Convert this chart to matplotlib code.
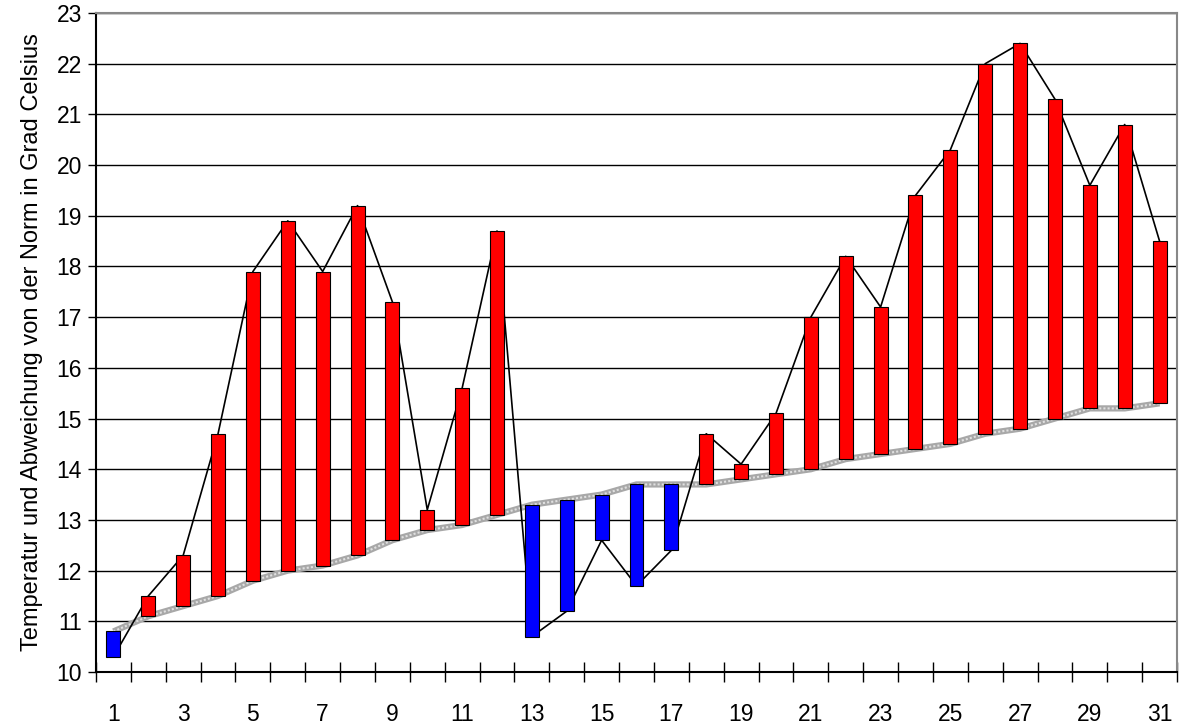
import matplotlib
matplotlib.use("Agg")
import matplotlib.pyplot as plt
import numpy as np

# Tage im Monat
tage = list(range(1, 32))

# gemessene Temperatur (Tagesmittel)
temperatur = [10.3, 11.5, 12.3, 14.7, 17.9, 18.9, 17.9, 19.2, 17.3, 13.2,
              15.6, 18.7, 10.7, 11.2, 12.6, 11.7, 12.4, 14.7, 14.1, 15.1,
              17.0, 18.2, 17.2, 19.4, 20.3, 22.0, 22.4, 21.3, 19.6, 20.8,
              18.5]

# langjährige Norm
norm = [10.8, 11.1, 11.3, 11.5, 11.8, 12.0, 12.1, 12.3, 12.6, 12.8,
        12.9, 13.1, 13.3, 13.4, 13.5, 13.7, 13.7, 13.7, 13.8, 13.9,
        14.0, 14.2, 14.3, 14.4, 14.5, 14.7, 14.8, 15.0, 15.2, 15.2,
        15.3]

y_ticks = list(range(10, 24))
x_labels = [str(t) if t % 2 == 1 else "" for t in tage]

plt.rcParams['font.family'] = ['Liberation Sans', 'DejaVu Sans']

fig = plt.figure(figsize=(11.8, 7.26), dpi=100)
ax = fig.add_axes([96 / 1180, 54 / 726, 1081 / 1180, 659 / 726])

temp = np.array(temperatur)
nrm = np.array(norm)
farben = ['#ff0000' if t >= n else '#0000ff' for t, n in zip(temp, nrm)]

# Gitter
for y in y_ticks:
    ax.axhline(y, color='black', lw=1.0, zorder=1)

# Norm als graues Band
ax.plot(tage, nrm, color='#a8a8a8', lw=4.5, solid_capstyle='butt', zorder=2)
ax.plot(tage, nrm, color='#e0e0e0', lw=1.5, ls=(0, (1, 1)), zorder=2.1)

# Temperaturlinie
ax.plot(tage, temp, color='black', lw=1.2, zorder=3)

# Abweichungsbalken
ax.bar(tage, temp - nrm, bottom=nrm, width=0.4, color=farben,
       edgecolor='black', linewidth=0.8, zorder=4)

ax.set_xlim(0.5, 31.5)
ax.set_ylim(10, 23)
ax.set_yticks(y_ticks)
ax.set_xticks(tage)
ax.set_xticklabels(x_labels)
ax.tick_params(axis='x', length=0, labelsize=16.5, pad=22)
ax.set_xticks(np.arange(0.5, 32, 1), minor=True)
ax.tick_params(axis='x', which='minor', direction='inout', length=14,
               width=1, color='black')
ax.tick_params(axis='y', direction='out', length=6, width=1,
               labelsize=16.5, pad=4)

ax.spines['left'].set_color('black')
ax.spines['bottom'].set_color('black')
ax.spines['top'].set_color('#888888')
ax.spines['right'].set_color('#888888')
for s in ax.spines.values():
    s.set_linewidth(1.5)

ax.set_ylabel('Temperatur und Abweichung von der Norm in Grad Celsius',
              fontsize=17, labelpad=10)

fig.savefig('out.png', dpi=100)
